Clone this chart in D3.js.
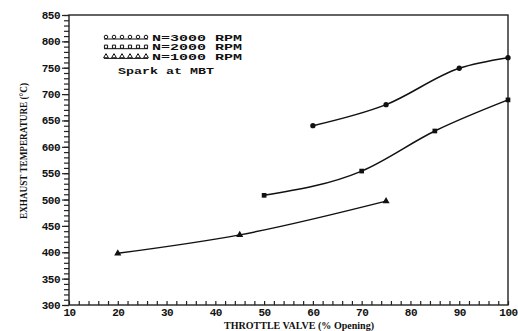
<!DOCTYPE html>
<html>
<head>
<meta charset="utf-8">
<script src="https://cdn.jsdelivr.net/npm/d3@7"></script>
<style>
  body { margin: 0; background: #fff; }
  text { fill: #111; }
</style>
</head>
<body>
<svg id="chart"></svg>
<script>
// data
const throttle3000 = [60, 75, 90, 100];
const temp3000 = [640, 680, 749, 769];
const throttle2000 = [50, 70, 85, 100];
const temp2000 = [508, 554, 630, 689];
const throttle1000 = [20, 45, 75];
const temp1000 = [398, 433, 497];
const xTicks = [10, 20, 30, 40, 50, 60, 70, 80, 90, 100];
const yTicks = [300, 350, 400, 450, 500, 550, 600, 650, 700, 750, 800, 850];
const legendLabels = ["N=3000 RPM", "N=2000 RPM", "N=1000 RPM"];

const W = 518, H = 331;
const margin = { top: 15, right: 10, bottom: 26, left: 69 };
const width = W - margin.left - margin.right;
const height = H - margin.top - margin.bottom;

const svg = d3.select("#chart").attr("width", W).attr("height", H);
const g = svg.append("g").attr("transform", "translate(" + margin.left + "," + margin.top + ")");

const x = d3.scaleLinear().domain([10, 100]).range([0, width]);
const y = d3.scaleLinear().domain([300, 850]).range([height, 0]);

const font = "'Liberation Mono', 'DejaVu Sans Mono', monospace";

// frame
g.append("rect")
  .attr("width", width).attr("height", height)
  .attr("fill", "none").attr("stroke", "#222").attr("stroke-width", 1.4);

// y axis: minor ticks every 10, pointing left
g.append("g")
  .call(d3.axisLeft(y).tickValues(d3.range(300, 851, 10)).tickSize(5).tickFormat(""))
  .call(a => a.select(".domain").remove())
  .selectAll("line").attr("stroke", "#222").attr("stroke-width", 1.2);
g.append("g")
  .call(d3.axisLeft(y).tickValues(yTicks).tickSize(7).tickPadding(2))
  .call(a => a.select(".domain").remove())
  .call(a => a.selectAll("line").attr("stroke", "#222").attr("stroke-width", 1.2))
  .selectAll("text")
  .attr("font-family", font).attr("font-weight", "bold").attr("font-size", 11)
  .attr("letter-spacing", -0.5).attr("fill", "#111");

// x axis: minor ticks every 2, pointing up into the plot
g.append("g")
  .attr("transform", "translate(0," + height + ")")
  .call(d3.axisTop(x).tickValues(d3.range(10, 101, 2)).tickSize(4).tickFormat(""))
  .call(a => a.select(".domain").remove())
  .selectAll("line").attr("stroke", "#222").attr("stroke-width", 1.2);
g.append("g")
  .attr("transform", "translate(0," + height + ")")
  .call(d3.axisBottom(x).tickValues(xTicks).tickSize(0).tickPadding(3))
  .call(a => a.select(".domain").remove())
  .selectAll("text")
  .attr("font-family", font).attr("font-weight", "bold").attr("font-size", 11)
  .attr("letter-spacing", -0.5).attr("fill", "#111");

// axis titles
svg.append("text")
  .attr("transform", "translate(27,151) rotate(-90)")
  .attr("text-anchor", "middle")
  .attr("font-family", "'Liberation Serif', serif")
  .attr("font-weight", "bold")
  .attr("font-size", 10.5)
  .attr("textLength", 136).attr("lengthAdjust", "spacingAndGlyphs")
  .text("EXHAUST TEMPERATURE (\u00B0C)");

svg.append("text")
  .attr("x", 299).attr("y", 329)
  .attr("text-anchor", "middle")
  .attr("font-family", "'Liberation Serif', serif")
  .attr("font-weight", "bold").attr("font-size", 11)
  .attr("textLength", 150).attr("lengthAdjust", "spacingAndGlyphs")
  .text("THROTTLE VALVE (% Opening)");

// curves
const series = [
  { xs: throttle3000, ys: temp3000, sym: d3.symbolCircle },
  { xs: throttle2000, ys: temp2000, sym: d3.symbolSquare },
  { xs: throttle1000, ys: temp1000, sym: d3.symbolTriangle }
];
const line = d3.line().x(d => x(d[0])).y(d => y(d[1])).curve(d3.curveMonotoneX);

series.forEach(s => {
  const pts = s.xs.map((v, i) => [v, s.ys[i]]);
  g.append("path")
    .datum(pts)
    .attr("d", line)
    .attr("fill", "none").attr("stroke", "#111").attr("stroke-width", 1.5);
  g.selectAll(null)
    .data(pts)
    .enter().append("path")
    .attr("transform", d => "translate(" + x(d[0]) + "," + y(d[1]) + ")")
    .attr("d", d3.symbol().type(s.sym).size(22))
    .attr("fill", "#111");
});

// legend
const legend = svg.append("g").attr("transform", "translate(104,37)");
legendLabels.forEach((lab, i) => {
  const row = legend.append("g").attr("transform", "translate(0," + (i * 9.7) + ")");
  row.append("line").attr("x1", 0).attr("x2", 44).attr("y1", 2).attr("y2", 2)
    .attr("stroke", "#111").attr("stroke-width", 1);
  d3.range(6).forEach(k => {
    row.append("path")
      .attr("transform", "translate(" + (2 + k * 8) + ",0)")
      .attr("d", d3.symbol().type(series[i].sym).size(10))
      .attr("fill", "none").attr("stroke", "#111").attr("stroke-width", 1);
  });
  row.append("text")
    .attr("x", 48).attr("y", 3.5)
    .attr("font-family", font).attr("font-weight", "bold").attr("font-size", 8.5)
    .attr("textLength", 90).attr("lengthAdjust", "spacingAndGlyphs")
    .text(lab);
});
svg.append("text")
  .attr("x", 118).attr("y", 74)
  .attr("font-family", font).attr("font-weight", "bold").attr("font-size", 9.5)
  .attr("textLength", 96).attr("lengthAdjust", "spacingAndGlyphs")
  .text("Spark at MBT");
</script>
</body>
</html>
